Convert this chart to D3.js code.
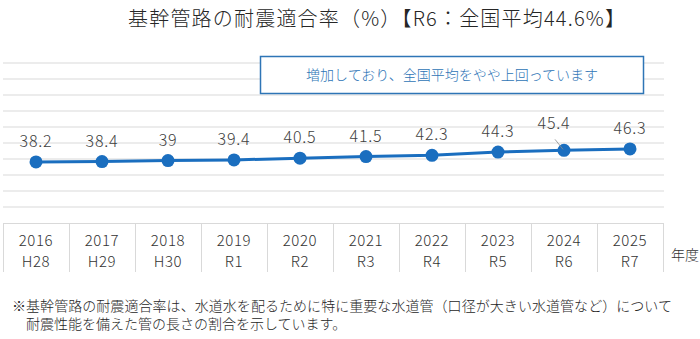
<!DOCTYPE html>
<html>
<head>
<meta charset="utf-8">
<script src="https://cdn.jsdelivr.net/npm/d3@7"></script>
<style>
  body { margin: 0; background: #fff; }
  svg { display: block; font-family: "Noto Sans CJK JP", sans-serif; }
</style>
</head>
<body>
<script>
const years = ["2016", "2017", "2018", "2019", "2020", "2021", "2022", "2023", "2024", "2025"];
const eras = ["H28", "H29", "H30", "R1", "R2", "R3", "R4", "R5", "R6", "R7"];
const rates = [38.2, 38.4, 39, 39.4, 40.5, 41.5, 42.3, 44.3, 45.4, 46.3];
const gridTicks = [10, 20, 30, 40, 50, 60, 70, 80, 90, 100];

const titleText = "基幹管路の耐震適合率（%）【R6：全国平均44.6%】";
const noteText = "増加しており、全国平均をやや上回っています";
const footLines = [
  "※基幹管路の耐震適合率は、水道水を配るために特に重要な水道管（口径が大きい水道管など）について",
  "耐震性能を備えた管の長さの割合を示しています。",
];

const width = 700;
const height = 339;
const blue = "#1a6ebf";

const svg = d3.select("body").append("svg")
  .attr("width", width)
  .attr("height", height);

const xScale = d3.scaleBand().domain(years).range([3, 663]);
const yScale = d3.scaleLinear().domain([0, 100]).range([223, 63]);
const cx = (d) => xScale(d) + xScale.bandwidth() / 2;

// title
svg.append("text")
  .attr("x", 128)
  .attr("y", 26)
  .attr("font-size", 20)
  .attr("font-weight", 300)
  .attr("fill", "#262626")
  .attr("textLength", 497)
  .attr("lengthAdjust", "spacing")
  .text(titleText);

// grid
svg.append("g")
  .selectAll("line")
  .data(gridTicks)
  .enter()
  .append("line")
  .attr("x1", 3)
  .attr("x2", 664)
  .attr("y1", (d) => yScale(d))
  .attr("y2", (d) => yScale(d))
  .attr("stroke", "#d9d9d9")
  .attr("stroke-width", 1);

// callout box
svg.append("rect")
  .attr("x", 260.5)
  .attr("y", 56.5)
  .attr("width", 383)
  .attr("height", 37)
  .attr("fill", "#fff")
  .attr("stroke", "#2e75b6")
  .attr("stroke-width", 1.5);

svg.append("text")
  .attr("x", 452)
  .attr("y", 80)
  .attr("text-anchor", "middle")
  .attr("font-size", 14)
  .attr("font-weight", 300)
  .attr("fill", "#2e75b6")
  .text(noteText);

// table (category axis)
const table = svg.append("g");
table.append("line")
  .attr("x1", 3).attr("x2", 663)
  .attr("y1", 223.5).attr("y2", 223.5)
  .attr("stroke", "#d9d9d9");

table.selectAll("line.sep")
  .data([...years.map((d) => xScale(d)), 663])
  .enter()
  .append("line")
  .attr("class", "sep")
  .attr("x1", (d) => Math.round(d) + 0.5)
  .attr("x2", (d) => Math.round(d) + 0.5)
  .attr("y1", 223)
  .attr("y2", 272)
  .attr("stroke", "#d9d9d9");

table.selectAll("text.year")
  .data(years)
  .enter()
  .append("text")
  .attr("class", "year")
  .attr("x", cx)
  .attr("y", 246)
  .attr("text-anchor", "middle")
  .attr("font-size", 15)
  .attr("font-weight", 300)
  .attr("letter-spacing", 0.6)
  .attr("fill", "#333")
  .text((d) => d);

table.selectAll("text.era")
  .data(eras)
  .enter()
  .append("text")
  .attr("class", "era")
  .attr("x", (d, i) => cx(years[i]))
  .attr("y", 267)
  .attr("text-anchor", "middle")
  .attr("font-size", 15)
  .attr("font-weight", 300)
  .attr("letter-spacing", 0.6)
  .attr("fill", "#333")
  .text((d) => d);

svg.append("text")
  .attr("x", 671)
  .attr("y", 260)
  .attr("font-size", 14)
  .attr("font-weight", 300)
  .attr("fill", "#333")
  .text("年度");

// line + markers
const line = d3.line()
  .x((d, i) => cx(years[i]))
  .y((d) => yScale(d));

svg.append("path")
  .datum(rates)
  .attr("d", line)
  .attr("fill", "none")
  .attr("stroke", blue)
  .attr("stroke-width", 3);

svg.append("g")
  .selectAll("circle")
  .data(rates)
  .enter()
  .append("circle")
  .attr("cx", (d, i) => cx(years[i]))
  .attr("cy", (d) => yScale(d))
  .attr("r", 6.5)
  .attr("fill", blue);

// data labels (2024 label is pulled up-left with a leader line)
const labelPos = (d, i) => {
  const x = cx(years[i]);
  const y = yScale(d);
  if (years[i] === "2024") return [x - 10, y - 21];
  return [x, y - 15];
};

svg.append("line")
  .attr("x1", cx("2024") - 9)
  .attr("y1", yScale(45.4) - 11)
  .attr("x2", cx("2024") - 1)
  .attr("y2", yScale(45.4) - 1)
  .attr("stroke", "#8c8c8c")
  .attr("stroke-width", 0.8);

svg.append("g")
  .selectAll("text")
  .data(rates)
  .enter()
  .append("text")
  .attr("x", (d, i) => labelPos(d, i)[0])
  .attr("y", (d, i) => labelPos(d, i)[1])
  .attr("text-anchor", "middle")
  .attr("font-size", 16)
  .attr("font-weight", 300)
  .attr("letter-spacing", 0.8)
  .attr("fill", "#404040")
  .text((d) => d);

// footnote
svg.append("g")
  .selectAll("text")
  .data(footLines)
  .enter()
  .append("text")
  .attr("x", (d, i) => (i === 0 ? 12 : 26))
  .attr("y", (d, i) => 311 + i * 18)
  .attr("font-size", 14)
  .attr("font-weight", 300)
  .attr("fill", "#262626")
  .each(function (d, i) {
    if (i === 0) d3.select(this).attr("textLength", 660).attr("lengthAdjust", "spacing");
  })
  .text((d) => d);
</script>
</body>
</html>
